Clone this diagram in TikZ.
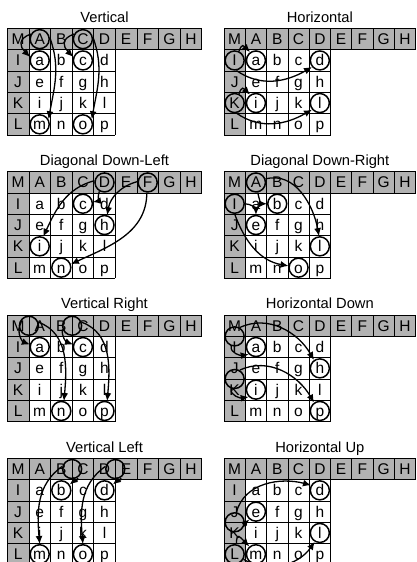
\documentclass[tikz,border=0pt]{standalone}
\usepackage{fontspec}
\setmainfont{Liberation Sans}
\usepackage{xcolor}
\usepackage{tikz}
\usetikzlibrary{arrows.meta}
\definecolor{cellgray}{RGB}{178,178,178}

\newcommand{\blockgrid}[1]{%
  \fill[cellgray] (0,0) rectangle (9,1);
  \fill[cellgray] (0,1) rectangle (1,5);
  \foreach \x in {0,...,9} \draw[gridline] (\x,0) -- (\x,1);
  \foreach \x in {0,...,5} \draw[gridline] (\x,1) -- (\x,5);
  \draw[gridline] (0,0) -- (9,0) (0,1) -- (9,1);
  \foreach \y in {2,...,5} \draw[gridline] (0,\y) -- (5,\y);
  \foreach \t [count=\i from 0] in {M,A,B,C,D,E,F,G,H}
    \node[letter] (#1-\t) at (\i+0.5,0.5) {\t};
  \foreach \t [count=\i from 1] in {I,J,K,L}
    \node[letter] (#1-\t) at (0.5,\i+0.5) {\t};
  \foreach \t [count=\i from 0] in {a,...,p}
    \node[letter] (#1-\t) at ({mod(\i,4)+1.5},{floor(\i/4)+1.5}) {\t};
}

\begin{document}
\begin{tikzpicture}[x=1pt,y=-1pt,>={Latex[length=8pt,width=7pt]},
  gridline/.style={line width=0.8pt},
  letter/.style={inner sep=0pt,text height=11pt,text depth=0pt,
    font=\fontsize{15.5}{16}\selectfont},
  paneltitle/.style={anchor=base,font=\fontsize{14.7}{16}\selectfont},
  ring/.style={circle,draw,line width=1.5pt,minimum size=19pt,inner sep=0pt},
  pred/.style={->,line width=1.3pt}]
  \useasboundingbox (0,0) rectangle (417,562);

  \begin{scope}[shift={(7.3pt,-28.5pt)},x=21.6pt,y=-21.3pt]
    \blockgrid{v}
    \node[paneltitle] (vtitle) at (4.5,-0.3) {Vertical};
    \node[ring] (vA) at (v-A) {};
    \node[ring] (vC) at (v-C) {};
    \node[ring] (va) at (v-a) {};
    \node[ring] (vc) at (v-c) {};
    \node[ring] (vm) at (v-m) {};
    \node[ring] (vo) at (v-o) {};
    \draw[pred] (vA.150) to[out=200,in=135,looseness=1.6] (va.160);
    \draw[pred] (vA.10) to[out=-70,in=80] (vm.30);
    \draw[pred] (vC.150) to[out=200,in=135,looseness=1.6] (vc.160);
    \draw[pred] (vC.10) to[out=-70,in=80] (vo.30);
  \end{scope}

  \begin{scope}[shift={(224pt,-28.5pt)},x=21.3pt,y=-21.3pt]
    \blockgrid{h}
    \node[paneltitle] (htitle) at (4.5,-0.3) {Horizontal};
    \node[ring] (hI) at (h-I) {};
    \node[ring] (ha) at (h-a) {};
    \node[ring] (hd) at (h-d) {};
    \node[ring] (hK) at (h-K) {};
    \node[ring] (hi) at (h-i) {};
    \node[ring] (hl) at (h-l) {};
    \draw[pred] (hI.65) to[out=70,in=135,looseness=2] (ha.125);
    \draw[pred] (hI.-80) to[out=-35,in=-150] (hd.-140);
    \draw[pred] (hK.65) to[out=70,in=135,looseness=2] (hi.125);
    \draw[pred] (hK.-80) to[out=-35,in=-150] (hl.-140);
  \end{scope}

  \begin{scope}[shift={(7.3pt,-171.8pt)},x=21.6pt,y=-21.3pt]
    \blockgrid{ddl}
    \node[paneltitle] (ddltitle) at (4.5,-0.3) {Diagonal Down-Left};
    \node[ring] (ddlD) at (ddl-D) {};
    \node[ring] (ddlF) at (ddl-F) {};
    \node[ring] (ddlc) at (ddl-c) {};
    \node[ring] (ddlh) at (ddl-h) {};
    \node[ring] (ddli) at (ddl-i) {};
    \node[ring] (ddln) at (ddl-n) {};
    \draw[pred] (ddlD.-120) to[out=-110,in=10] (ddlc.10);
    \draw[pred] (ddlD.170) to[out=195,in=65] (ddli.70);
    \draw[pred] (ddlF.175) to[out=195,in=80] (ddlh.75);
    \draw[pred] (ddlF.-95) to[out=-90,in=25] (ddln.20);
  \end{scope}

  \begin{scope}[shift={(224pt,-171.8pt)},x=21.3pt,y=-21.3pt]
    \blockgrid{ddr}
    \node[paneltitle] (ddrtitle) at (4.5,-0.3) {Diagonal Down-Right};
    \node[ring] (ddrA) at (ddr-A) {};
    \node[ring] (ddrI) at (ddr-I) {};
    \node[ring] (ddrb) at (ddr-b) {};
    \node[ring] (ddre) at (ddr-e) {};
    \node[ring] (ddrl) at (ddr-l) {};
    \node[ring] (ddro) at (ddr-o) {};
    \draw[pred] (ddrA.-80) to[out=-80,in=180] (ddrb.180);
    \draw[pred] (ddrA.20) to[out=15,in=100] (ddrl.95);
    \draw[pred] (ddrI.0) to[out=0,in=90] (ddre.90);
    \draw[pred] (ddrI.-90) to[out=-70,in=170] (ddro.170);
  \end{scope}

  \begin{scope}[shift={(7.3pt,-315.1pt)},x=21.6pt,y=-21.3pt]
    \blockgrid{vr}
    \node[paneltitle] (vrtitle) at (4.5,-0.3) {Vertical Right};
    \node[ring] (vrMA) at (1,0.5) {};
    \node[ring] (vrBC) at (3,0.5) {};
    \node[ring] (vra) at (vr-a) {};
    \node[ring] (vrc) at (vr-c) {};
    \node[ring] (vrn) at (vr-n) {};
    \node[ring] (vrp) at (vr-p) {};
    \draw[pred] (vrMA.200) to[out=-100,in=160] (vra.165);
    \draw[pred] (vrMA.20) to[out=-20,in=85] (vrn.75);
    \draw[pred] (vrBC.200) to[out=-100,in=160] (vrc.165);
    \draw[pred] (vrBC.20) to[out=-20,in=85] (vrp.75);
  \end{scope}

  \begin{scope}[shift={(224pt,-315.1pt)},x=21.3pt,y=-21.3pt]
    \blockgrid{hd}
    \node[paneltitle] (hdtitle) at (4.5,-0.3) {Horizontal Down};
    \node[ring] (hdMI) at (0.5,1) {};
    \node[ring] (hdJK) at (0.5,3) {};
    \node[ring] (hda) at (hd-a) {};
    \node[ring] (hdh) at (hd-h) {};
    \node[ring] (hdi) at (hd-i) {};
    \node[ring] (hdp) at (hd-p) {};
    \draw[pred] (hdMI.60) to[out=25,in=120] (hdh.125);
    \draw[pred] (hdMI.-110) to[out=-100,in=190] (hda.-135);
    \draw[pred] (hdJK.60) to[out=25,in=120] (hdp.125);
    \draw[pred] (hdJK.-110) to[out=-100,in=190] (hdi.-135);
  \end{scope}

  \begin{scope}[shift={(7.3pt,-458.4pt)},x=21.6pt,y=-21.3pt]
    \blockgrid{vl}
    \node[paneltitle] (vltitle) at (4.5,-0.3) {Vertical Left};
    \node[ring] (vlBC) at (3,0.5) {};
    \node[ring] (vlDE) at (5,0.5) {};
    \node[ring] (vlb) at (vl-b) {};
    \node[ring] (vld) at (vl-d) {};
    \node[ring] (vlm) at (vl-m) {};
    \node[ring] (vlo) at (vl-o) {};
    \draw[pred] (vlBC.-60) to[out=-30,in=40] (vlb.35);
    \draw[pred] (vlBC.165) to[out=215,in=95] (vlm.90);
    \draw[pred] (vlDE.-60) to[out=-30,in=40] (vld.35);
    \draw[pred] (vlDE.165) to[out=215,in=95] (vlo.90);
  \end{scope}

  \begin{scope}[shift={(224pt,-458.4pt)},x=21.3pt,y=-21.3pt]
    \blockgrid{hu}
    \node[paneltitle] (hutitle) at (4.5,-0.3) {Horizontal Up};
    \node[ring] (huJK) at (0.5,3) {};
    \node[ring] (huL) at (hu-L) {};
    \node[ring] (hud) at (hu-d) {};
    \node[ring] (hue) at (hu-e) {};
    \node[ring] (hul) at (hu-l) {};
    \node[ring] (hum) at (hu-m) {};
    \draw[pred] (huJK.80) to[out=75,in=165] (hud.150);
    \draw[pred] (huJK.-20) to[out=-10,in=-140] (hue.-130);
    \draw[pred] (huL.80) to[out=90,in=135,looseness=2.5] (hum.130);
    \draw[pred] (huL.-30) to[out=-30,in=-125] (hul.-120);
  \end{scope}
\end{tikzpicture}
\end{document}
